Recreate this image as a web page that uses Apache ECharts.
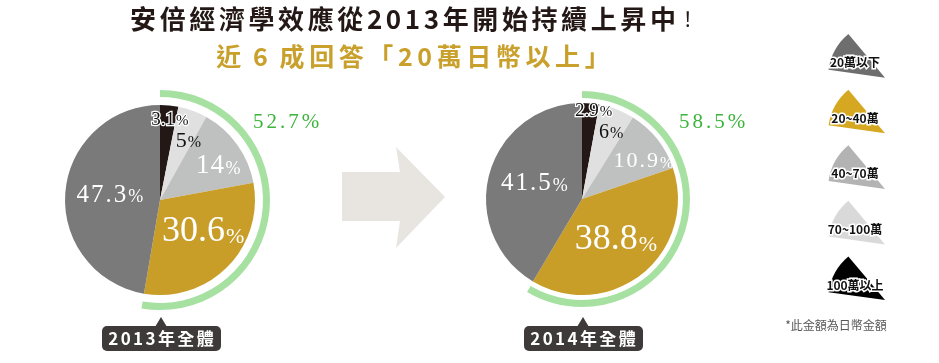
<!DOCTYPE html>
<html><head><meta charset="utf-8">
<script src="https://cdn.jsdelivr.net/npm/echarts@6/dist/echarts.min.js"></script>
<style>html,body{margin:0;padding:0;background:#fff}#c{width:939px;height:363px}</style>
</head><body><div id="c"></div>
<script>
// ---- data ----
const categories = ['100萬以上', '70~100萬', '40~70萬', '20~40萬', '20萬以下'];
const values2013 = [3.1, 5, 14, 30.6, 47.3];
const values2014 = [2.9, 6, 10.9, 38.8, 41.5];
const shareAbove20 = [52.7, 58.5];
const yearLabels = ['2013年全體', '2014年全體'];
const titleText = '安倍經濟學效應從2013年開始持續上昇中';
const titleEnd = '！';
const subtitleText = '近 6 成回答「20萬日幣以上」';
const noteText = '*此金額為日幣金額';

// ---- styles ----
const sliceColors = ['#231815', '#e1e0e0', '#bfc0c0', '#c89d28', '#7b7a7a'];
const legendColors = ['#000000', '#d9d9d9', '#b3b3b3', '#d6a821', '#6e6e6e'];
const labelColors = ['#111111', '#111111', '#ffffff', '#ffffff', '#ffffff'];
// label placement: radius fraction and angular tweak (degrees, clockwise)
const labelStyle = [
  { sizes: [[19, 15], [22, 16], [27, 18], [36, 22], [25, 18]], gap: [0, 0, 0.5, 0, 1],
    radius: [0.85, 0.69, 0.71, 0.56, 0.53], turn: [1.5, 5.6, 5.2, -8.8, 0.5] },
  { sizes: [[19, 15], [20, 16], [22, 16], [36, 22], [25, 18]], gap: [0, 0, 1, 0, 1],
    radius: [0.92, 0.75, 0.75, 0.55, 0.52], turn: [2.3, 2.7, 6.6, -1, 2.3] }
];
const pies = [
  { center: [160, 200], r: 95, arc: [103, 110], pct: [286, 122] },
  { center: [582, 199], r: 96, arc: [101, 108], pct: [712, 122] }
];
const SERIF = 'Liberation Serif';
const SANS = '"Noto Sans CJK TC", "Noto Sans", sans-serif';

function spaced(text, key, spaceKey) {
  return text.split('').map(ch => '{' + (ch === ' ' && spaceKey ? spaceKey : key) + '|' + ch + '}').join('');
}

function pieSeries(vals, k) {
  const P = pies[k], L = labelStyle[k];
  return {
    type: 'pie', center: P.center, radius: [0, P.r], startAngle: 90, clockwise: true,
    silent: true, avoidLabelOverlap: false,
    itemStyle: { borderWidth: 0 },
    label: { show: true, position: 'inside' },
    labelLine: { show: false },
    emphasis: { disabled: true },
    data: vals.map((v, i) => {
      const border = i === 0 ? { textBorderColor: '#fff', textBorderWidth: 2.5 } : {};
      return {
        value: v, name: categories[i],
        itemStyle: { color: sliceColors[i] },
        label: {
          formatter: spaced(String(v), 'n') + '{p|%}',
          rich: {
            n: Object.assign({ fontSize: L.sizes[i][0], color: labelColors[i], fontFamily: SERIF, verticalAlign: 'bottom',
                 padding: [0, L.gap[i], 0, L.gap[i]] }, border),
            p: Object.assign({ fontSize: L.sizes[i][1], color: labelColors[i], fontFamily: SERIF, verticalAlign: 'bottom',
                 padding: [0, 0, 1, 1] }, border)
          }
        }
      };
    }),
    labelLayout: function (params) {
      const idx = params.dataIndex;
      const r = params.labelRect;
      const lx = r.x + r.width / 2, ly = r.y + r.height / 2;
      const vx = lx - P.center[0], vy = ly - P.center[1];
      const ang = Math.atan2(vy, vx) + L.turn[idx] * Math.PI / 180;
      const len = L.radius[idx] * P.r;
      return { dx: P.center[0] + len * Math.cos(ang) - lx, dy: P.center[1] + len * Math.sin(ang) - ly };
    }
  };
}

function arcSeries(k) {
  const P = pies[k];
  return {
    type: 'pie', center: P.center, radius: P.arc, startAngle: 90, clockwise: true,
    silent: true, label: { show: false }, labelLine: { show: false }, emphasis: { disabled: true },
    data: [
      { value: shareAbove20[k], name: '20萬以上', itemStyle: { color: '#a6e1a2' } },
      { value: 100 - shareAbove20[k], name: 'rest', itemStyle: { color: 'rgba(0,0,0,0)' } }
    ]
  };
}

const graphics = [];
// title lines
graphics.push({ type: 'text', x: 413, y: 19, style: { text: spaced(titleText, 't') + '{e|' + titleEnd + '}', align: 'center', verticalAlign: 'middle',
  rich: { t: { fontSize: 26, fontWeight: 'bold', fill: '#231815', fontFamily: SANS, padding: [0, 1.8, 0, 1.8] },
          e: { fontSize: 20, fontWeight: 'normal', fill: '#231815', fontFamily: SANS } } } });
graphics.push({ type: 'text', x: 413, y: 56, style: { text: spaced(subtitleText, 's', 'w'), align: 'center', verticalAlign: 'middle',
  rich: { s: { fontSize: 25, fontWeight: 'bold', fill: '#c9a02b', fontFamily: SANS, padding: [0, 2.3, 0, 2.3] },
          w: { fontSize: 14, fill: '#c9a02b', fontFamily: SANS, padding: [0, 2, 0, 2] } } } });
// percentage of >=20萬, year boxes
pies.forEach((P, k) => {
  graphics.push({ type: 'text', x: P.pct[0], y: P.pct[1], style: { text: spaced(shareAbove20[k] + '%', 'g'), align: 'center', verticalAlign: 'middle',
    rich: { g: { fontSize: 21, fill: '#3cb43c', fontFamily: SERIF, padding: [0, 1.5, 0, 1.5] } } } });
  const cx = P.center[0] + 1;
  graphics.push({ type: 'polygon', shape: { points: [[cx - 6, 327], [cx, 317], [cx + 6, 327]] }, style: { fill: '#3e3a39' } });
  graphics.push({ type: 'rect', shape: { x: cx - 59, y: 326, width: 119, height: 25, r: 5 }, style: { fill: '#3e3a39' } });
  graphics.push({ type: 'text', x: cx, y: 339, style: { text: spaced(yearLabels[k], 'y'), align: 'center', verticalAlign: 'middle',
    rich: { y: { fontSize: 17, fill: '#ffffff', fontFamily: SANS, fontWeight: 'bold', padding: [0, 1.2, 0, 1.2] } } } });
});
// arrow
graphics.push({ type: 'polygon', shape: { points: [[342, 172], [400, 172], [396, 147], [445, 197], [396, 248], [400, 221], [342, 221]] },
  style: { fill: '#e8e5e1' } });
// legend (top to bottom: reverse category order)
for (let j = 0; j < categories.length; j++) {
  const i = categories.length - 1 - j;
  const ty = 62.7 + 55.6 * j;
  graphics.push({ type: 'sector', shape: { cx: 885, cy: ty + 15, r: 57, r0: 0, startAngle: 188 * Math.PI / 180, endAngle: 230 * Math.PI / 180, clockwise: true },
    style: { fill: legendColors[i] } });
  graphics.push({ type: 'text', x: 855, y: ty, style: { text: categories[i], align: 'center', verticalAlign: 'middle',
    fontSize: 12, fontWeight: 'bold', fill: '#111', fontFamily: SANS, stroke: '#fff', lineWidth: 3 } });
}
graphics.push({ type: 'text', x: 836, y: 325, style: { text: noteText, align: 'center', verticalAlign: 'middle',
  fontSize: 12, fill: '#595757', fontFamily: SANS } });

const chart = echarts.init(document.getElementById('c'), null, { renderer: 'canvas' });
chart.setOption({
  animation: false,
  backgroundColor: '#ffffff',
  series: [arcSeries(0), pieSeries(values2013, 0), arcSeries(1), pieSeries(values2014, 1)],
  graphic: graphics
});
</script>
</body></html>
